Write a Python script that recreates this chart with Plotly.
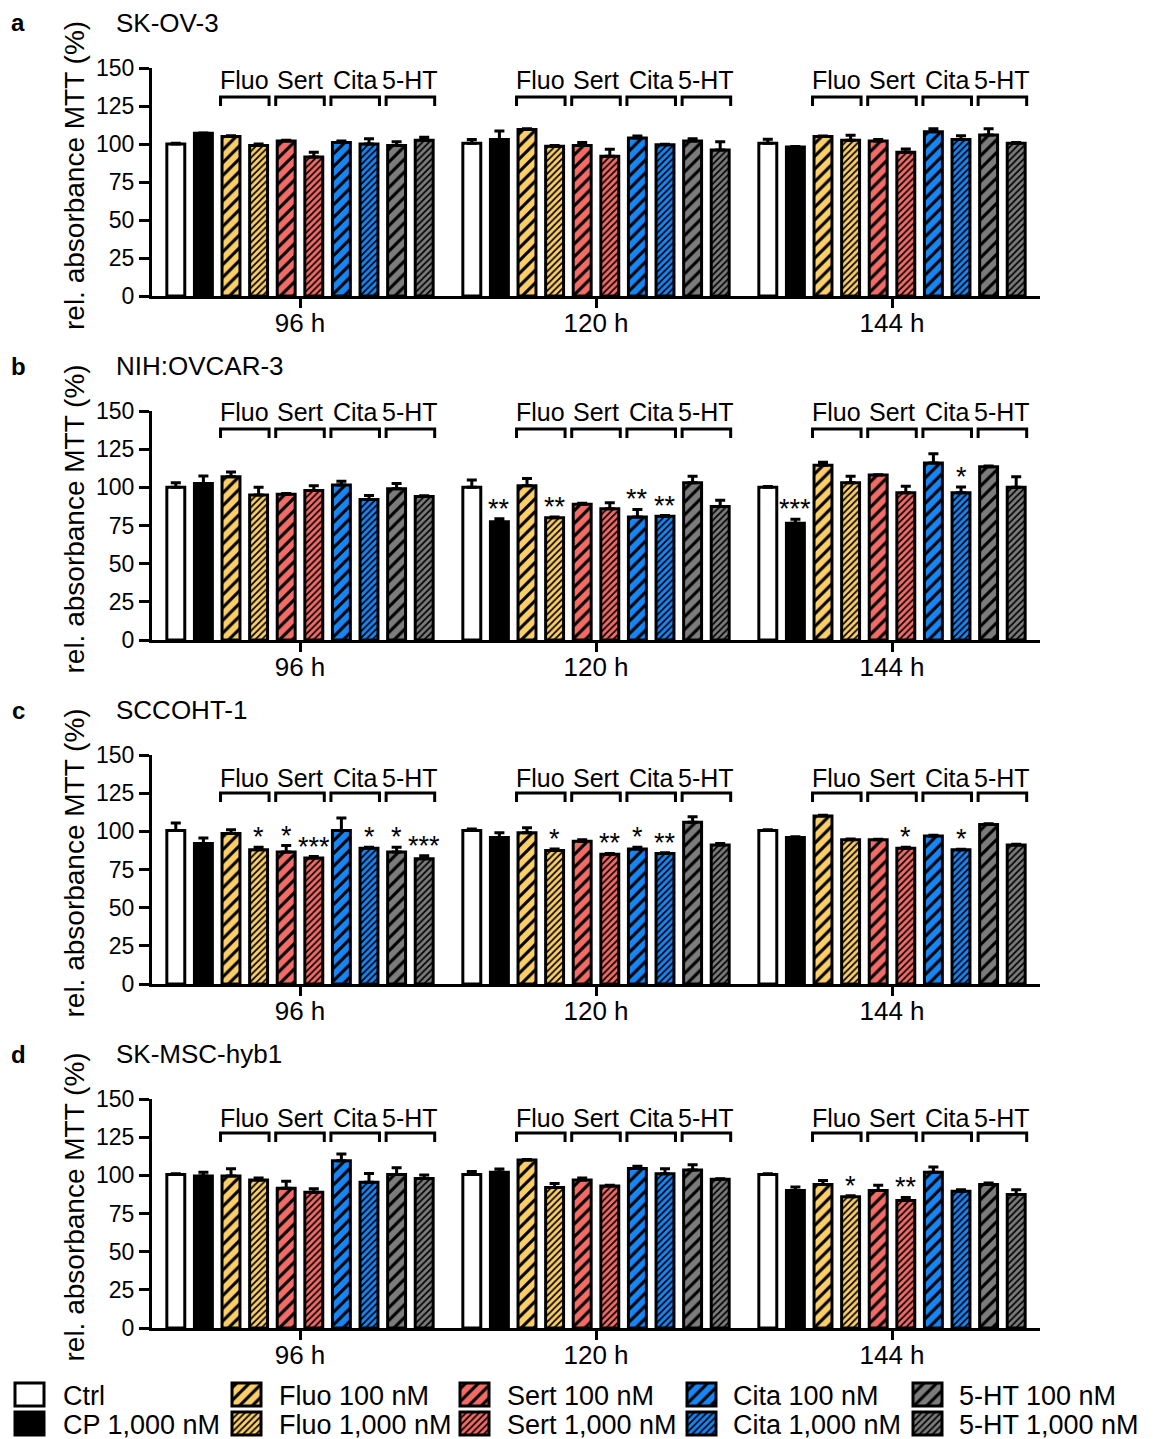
import plotly.graph_objects as go

# ---------------- data ----------------
time_points = ["96 h", "120 h", "144 h"]
treatments = ["Ctrl", "CP 1,000 nM", "Fluo 100 nM", "Fluo 1,000 nM",
              "Sert 100 nM", "Sert 1,000 nM", "Cita 100 nM", "Cita 1,000 nM",
              "5-HT 100 nM", "5-HT 1,000 nM"]
drug_labels = ["Fluo", "Sert", "Cita", "5-HT"]
panel_letters = ["a", "b", "c", "d"]
cell_lines = ["SK-OV-3", "NIH:OVCAR-3", "SCCOHT-1", "SK-MSC-hyb1"]
y_ticks = [0, 25, 50, 75, 100, 125, 150]

# values ordered: 96 h (10 treatments), 120 h (10), 144 h (10)
skov3_mean = [100, 107, 105, 99, 102, 91.5, 101, 100, 99, 102.5,
              100.5, 103, 109.5, 98.5, 99, 92, 104, 99.5, 102, 96,
              100.5, 98, 105, 102.5, 102, 94.5, 108, 103, 106, 100.5]
skov3_err = [0.5, 0.3, 0.5, 1, 0.5, 3, 1, 3.5, 2.5, 2,
             2.5, 5.5, 0.5, 0.5, 2, 4.5, 1.3, 0.3, 1.5, 5.5,
             2.7, 0.3, 0.3, 3.3, 1, 2.2, 2, 2.5, 4, 0.5]
skov3_sig = [""] * 30

nih_mean = [100, 102.5, 107, 95, 95.5, 98, 101.5, 92, 99, 94,
            100, 77.5, 101, 80, 89, 86, 80.5, 81, 103, 87.5,
            100, 76.5, 114.5, 103, 108, 96.5, 116, 96.5, 113.5, 100]
nih_err = [3, 5, 3, 5, 0.5, 3, 2.5, 2.6, 3.5, 0.5,
           4.8, 2, 4.8, 0.5, 0.5, 3.9, 5, 0.5, 4.3, 4,
           0.5, 2.6, 2, 4.2, 0.3, 4.2, 6, 3.7, 0.5, 7]
nih_sig = ["", "", "", "", "", "", "", "", "", "",
           "", "**", "", "**", "", "", "**", "**", "", "",
           "", "***", "", "", "", "", "", "*", "", ""]

scc_mean = [100.5, 92, 98.5, 88, 86.5, 82.5, 100.5, 89, 86.5, 82,
            100.5, 96, 99, 87.5, 93.5, 85, 88.5, 85.5, 106, 91,
            100.5, 96, 110, 94.5, 94.5, 89, 97, 88, 104.5, 91]
scc_err = [5, 3.7, 2.5, 1.5, 4.2, 1, 8.3, 0.5, 3, 2,
           1, 3, 3.3, 1, 1, 0.5, 1, 0.5, 3.5, 1,
           0.5, 0.5, 0.5, 0.5, 0.3, 0.5, 0.5, 0.3, 0.5, 0.5]
scc_sig = ["", "", "", "*", "*", "***", "", "*", "*", "***",
           "", "", "", "*", "", "**", "*", "**", "", "",
           "", "", "", "", "", "*", "", "*", "", ""]

skmsc_mean = [100.5, 99.5, 99.5, 97, 91.5, 89, 109.5, 95.5, 100.5, 98,
              100.5, 102, 110, 92, 97, 93, 104.5, 101, 103.5, 97.5,
              100.5, 90, 94, 86, 90, 83.5, 102, 89.5, 94, 87.5]
skmsc_err = [0.5, 2.5, 4.8, 1.3, 4.6, 2.2, 4.4, 5.7, 4.4, 2.2,
             2, 2.2, 0.3, 2.6, 1.3, 0.5, 1.5, 3.3, 3.5, 0.3,
             0.5, 2.4, 2.6, 0.7, 3.5, 2, 3.5, 1, 1, 3]
skmsc_sig = ["", "", "", "", "", "", "", "", "", "",
             "", "", "", "", "", "", "", "", "", "",
             "", "", "", "*", "", "**", "", "", "", ""]

# ---------------- style / layout ----------------
PAGE_W, PAGE_H = 1159, 1439
OFF = 8                         # page body margin
W, H = PAGE_W - OFF, PAGE_H - OFF
FONT = "Liberation Sans, Arial, Helvetica, sans-serif"
YEL, RED, BLU, GRY = "#FCCF66", "#F46B66", "#1686F5", "#7C7C7C"
fills = ["white", "black", YEL, YEL, RED, RED, BLU, BLU, GRY, GRY]
shapes_p = ["", "", "/", "/", "/", "/", "/", "/", "/", "/"]
sizes_p = [8, 8, 9, 4.6, 9, 4.6, 9, 4.6, 9, 4.6]
solid_p = [0.3, 0.3, 0.34, 0.38, 0.34, 0.38, 0.34, 0.38, 0.34, 0.38]

# target page-pixel geometry
X0_PX, X1_PX = 152, 1040
top_px = [68, 411, 755, 1099]      # pixel row of 150
bot_px = [296, 640, 984, 1328]     # pixel row of 0
brk_off = [29, 18, 38, 34]         # bracket top below 150-line (px)
lab_off = [12, 1, 23, 19]          # drug label centre below 150-line (px)

BARGAP = 0.0676
GROUPGAP = 0.35
slot = (1 - BARGAP) / 10
cat_px = (X1_PX - X0_PX) / 3.0
half_outer = slot * (1 - GROUPGAP) / 2 + 1.5 / cat_px

panels = [(skov3_mean, skov3_err, skov3_sig),
          (nih_mean, nih_err, nih_sig),
          (scc_mean, scc_err, scc_sig),
          (skmsc_mean, skmsc_err, skmsc_sig)]


def xpaper(px):
    return (px - OFF) / W


def ypaper(px):
    return 1 - (px - OFF) / H


fig = go.Figure()
layout = dict(width=W, height=H, template="none",
              margin=dict(l=0, r=0, t=0, b=0, pad=0, autoexpand=False),
              paper_bgcolor="white", plot_bgcolor="white",
              barmode="group", bargap=BARGAP, bargroupgap=GROUPGAP,
              showlegend=False, font=dict(family=FONT, color="black"))
annotations = []
shapes = []

for p, (mean, err, sig) in enumerate(panels):
    k = "" if p == 0 else str(p + 1)
    xa, ya = "x" + k, "y" + k
    for t in range(10):
        vals = [mean[g * 10 + t] for g in range(3)]
        errs = [err[g * 10 + t] for g in range(3)]
        pattern = dict(shape=shapes_p[t], size=sizes_p[t], solidity=solid_p[t],
                       fgcolor="black", fgopacity=1, fillmode="overlay")
        fig.add_trace(go.Bar(
            x=time_points, y=vals, name=treatments[t], xaxis=xa, yaxis=ya,
            marker=dict(color=fills[t], line=dict(color="black", width=3),
                        pattern=pattern),
            error_y=dict(type="data", array=errs, arrayminus=[0, 0, 0],
                         symmetric=False, color="black", thickness=3, width=5),
            showlegend=False))
        for g in range(3):
            s = sig[g * 10 + t]
            if s:
                annotations.append(dict(
                    x=g + (t - 4.5) * slot, y=mean[g * 10 + t] + err[g * 10 + t],
                    xref=xa, yref=ya, text=s, showarrow=False,
                    yanchor="bottom", yshift=-7,
                    font=dict(size=27, family=FONT, color="black")))
    layout["xaxis" + k] = dict(
        domain=[xpaper(X0_PX), xpaper(X1_PX)], anchor=ya, type="category",
        categoryorder="array", categoryarray=time_points, range=[-0.5, 2.5],
        showline=True, linewidth=3, linecolor="black", ticks="outside",
        ticklen=9, tickwidth=3, tickcolor="black", showgrid=False,
        zeroline=False, automargin=False, ticklabelstandoff=-7,
        tickfont=dict(size=26, family=FONT, color="black"))
    layout["yaxis" + k] = dict(
        domain=[ypaper(bot_px[p]), ypaper(top_px[p])], anchor=xa,
        range=[0, 150], tickvals=y_ticks, showline=True, linewidth=3,
        linecolor="black", ticks="outside", ticklen=10, tickwidth=3,
        tickcolor="black", showgrid=False, zeroline=False, automargin=False,
        tickfont=dict(size=23, family=FONT, color="black"))
    # y axis title
    annotations.append(dict(
        x=xpaper(74), y=ypaper((top_px[p] + bot_px[p]) / 2 - 6), xref="paper",
        yref="paper", text="rel. absorbance MTT (%)", textangle=-90,
        showarrow=False, xanchor="center", yanchor="middle",
        font=dict(size=28, family=FONT, color="black")))
    # panel letter + title
    annotations.append(dict(
        x=xpaper(18), y=ypaper(top_px[p] - 45), xref="paper", yref="paper",
        text="<b>" + panel_letters[p] + "</b>", showarrow=False,
        xanchor="center", yanchor="middle",
        font=dict(size=24, family=FONT, color="black")))
    annotations.append(dict(
        x=xpaper(114), y=ypaper(top_px[p] - 45), xref="paper", yref="paper",
        text=cell_lines[p], showarrow=False, xanchor="left", yanchor="middle",
        font=dict(size=26, family=FONT, color="black")))
    # brackets with drug labels
    yb = top_px[p] + brk_off[p]
    for g in range(3):
        for d, lab in enumerate(drug_labels):
            t0, t1 = 2 + 2 * d, 3 + 2 * d
            xl = g + (t0 - 4.5) * slot - half_outer
            xr = g + (t1 - 4.5) * slot + half_outer
            shapes.append(dict(
                type="path", xref=xa, yref="paper",
                path="M {a},{b} L {a},{c} L {d},{c} L {d},{b}".format(
                    a=xl, b=ypaper(yb + 9), c=ypaper(yb), d=xr),
                line=dict(color="black", width=3)))
            annotations.append(dict(
                x=(xl + xr) / 2, y=ypaper(top_px[p] + lab_off[p]), xref=xa,
                yref="paper", text=lab, showarrow=False, xanchor="center",
                yanchor="middle", font=dict(size=25, family=FONT, color="black")))

# ---------------- legend (swatches on a pixel-scaled helper axis) ----------------
leg_col_left = [15, 232, 460, 687, 913]
leg_text_left = [61, 277, 505, 731, 957]
leg_row_top = [1383, 1412]
SW_W, SW_H = 29, 23
LEG_TOP = 1370
for t in range(10):
    col, row = t // 2, t % 2
    pattern = dict(shape=shapes_p[t], size=sizes_p[t], solidity=solid_p[t],
                   fgcolor="black", fgopacity=1, fillmode="overlay")
    fig.add_trace(go.Bar(
        x=[leg_col_left[col]], y=[SW_H], base=[leg_row_top[row]],
        width=[SW_W], offset=0, xaxis="x5", yaxis="y5",
        marker=dict(color=fills[t], line=dict(color="black", width=3),
                    pattern=pattern),
        showlegend=False, hoverinfo="skip"))
    annotations.append(dict(
        x=xpaper(leg_text_left[col]), y=ypaper(leg_row_top[row] + SW_H / 2 + 1),
        xref="paper", yref="paper", text=treatments[t], showarrow=False,
        xanchor="left", yanchor="middle",
        font=dict(size=27, family=FONT, color="black")))
# helper axis spans page pixels OFF..PAGE_W horizontally, LEG_TOP..PAGE_H vertically
layout["xaxis5"] = dict(domain=[0, 1], range=[OFF, PAGE_W], visible=False,
                        anchor="y5", fixedrange=True, automargin=False)
layout["yaxis5"] = dict(domain=[0, ypaper(LEG_TOP)], range=[PAGE_H, LEG_TOP],
                        visible=False, anchor="x5", fixedrange=True,
                        automargin=False)

layout["annotations"] = annotations
layout["shapes"] = shapes
fig.update_layout(**layout)
fig.write_html("out.html")
